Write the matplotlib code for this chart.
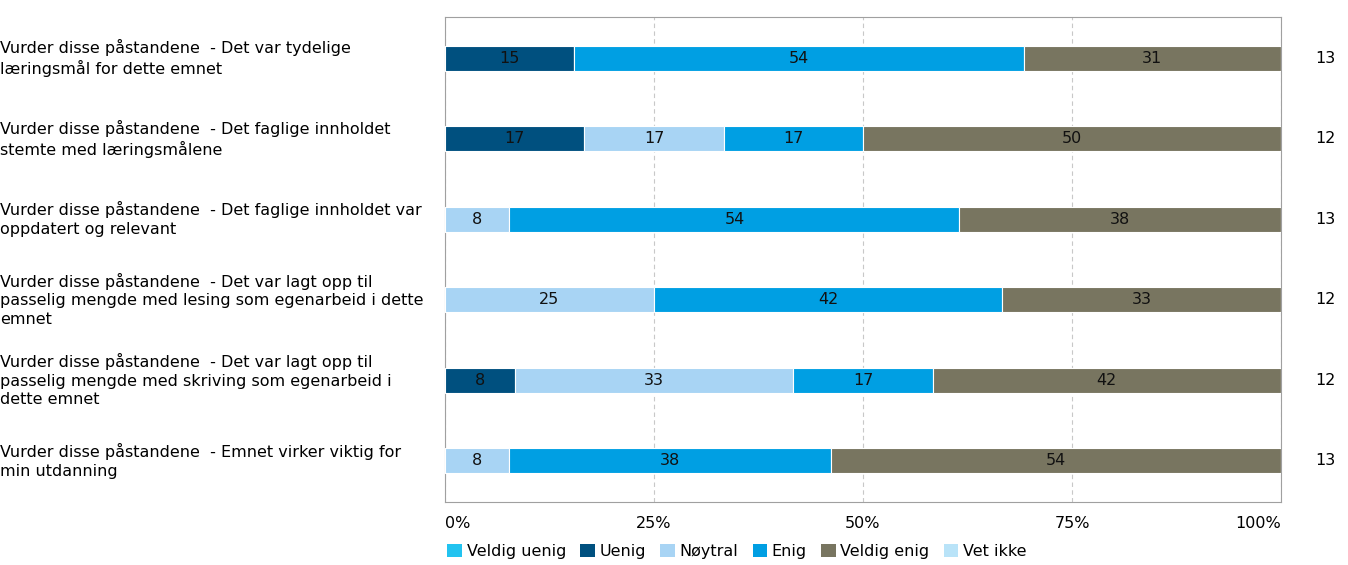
import numpy as np
import matplotlib.pyplot as plt
from matplotlib.patches import Patch

plt.rcParams['font.family'] = ['DejaVu Sans']

questions = [
    "Vurder disse påstandene  - Det var tydelige\nlæringsmål for dette emnet",
    "Vurder disse påstandene  - Det faglige innholdet\nstemte med læringsmålene",
    "Vurder disse påstandene  - Det faglige innholdet var\noppdatert og relevant",
    "Vurder disse påstandene  - Det var lagt opp til\npasselig mengde med lesing som egenarbeid i dette\nemnet",
    "Vurder disse påstandene  - Det var lagt opp til\npasselig mengde med skriving som egenarbeid i\ndette emnet",
    "Vurder disse påstandene  - Emnet virker viktig for\nmin utdanning",
]
categories = ["Veldig uenig", "Uenig", "Nøytral", "Enig", "Veldig enig", "Vet ikke"]
colors = ["#22c3f0", "#00507f", "#a8d4f4", "#009fe3", "#787560", "#b9e3f8"]

# answer counts per question, columns follow categories
veldig_uenig = [0, 0, 0, 0, 0, 0]
uenig        = [2, 2, 0, 0, 1, 0]
noytral      = [0, 2, 1, 3, 4, 1]
enig         = [7, 2, 7, 5, 2, 5]
veldig_enig  = [4, 6, 5, 4, 5, 7]
vet_ikke     = [0, 0, 0, 0, 0, 0]
n_answers    = [13, 12, 13, 12, 12, 13]

counts = np.array([veldig_uenig, uenig, noytral, enig, veldig_enig, vet_ikke], dtype=float)
share = counts / np.array(n_answers) * 100

fs = 11.5
fig = plt.figure(figsize=(13.48, 5.65), dpi=100)
ax = fig.add_axes([445 / 1348, 1 - 502 / 565, 836 / 1348, 485 / 565])

y = np.arange(len(questions))
left = np.zeros(len(questions))
for i, cat in enumerate(categories):
    ax.barh(y, share[i], left=left, height=0.31, color=colors[i],
            edgecolor="white", linewidth=0.8, zorder=3)
    for j in range(len(questions)):
        if share[i, j] > 0:
            ax.text(left[j] + share[i, j] / 2, y[j], f"{share[i, j]:.0f}",
                    ha="center", va="center", fontsize=fs, color="#111111", zorder=4)
    left += share[i]

ax.set_xlim(0, 100)
ax.set_ylim(len(questions) - 0.49, -0.51)
ax.set_yticks([])
ax.set_xticks([0, 25, 50, 75, 100])
ax.set_xticklabels(["0%", "25%", "50%", "75%", "100%"], fontsize=fs)
tl = ax.get_xticklabels()
tl[0].set_ha("left")
tl[-1].set_ha("right")
ax.tick_params(axis="x", length=0, pad=10)
ax.grid(axis="x", color="#c8c8c8", linestyle=(0, (4, 3)), linewidth=0.8, zorder=0)
for s in ax.spines.values():
    s.set_color("#a0a0a0")
    s.set_linewidth(0.8)

for j, q in enumerate(questions):
    ax.text(-445 / 836 * 100, y[j], q, ha="left", va="center",
            fontsize=fs, linespacing=1.3, clip_on=False)
    ax.text(105.3, y[j], str(n_answers[j]), ha="center", va="center", fontsize=fs)

handles = [Patch(facecolor=c, edgecolor="none") for c in colors]
fig.legend(handles, categories, loc="lower left", bbox_to_anchor=(437 / 1348, -0.008),
           ncol=6, frameon=False, fontsize=fs, handlelength=0.9, handleheight=0.9,
           handletextpad=0.3, columnspacing=0.9, borderaxespad=0.25)

fig.savefig("out.png", dpi=100)
